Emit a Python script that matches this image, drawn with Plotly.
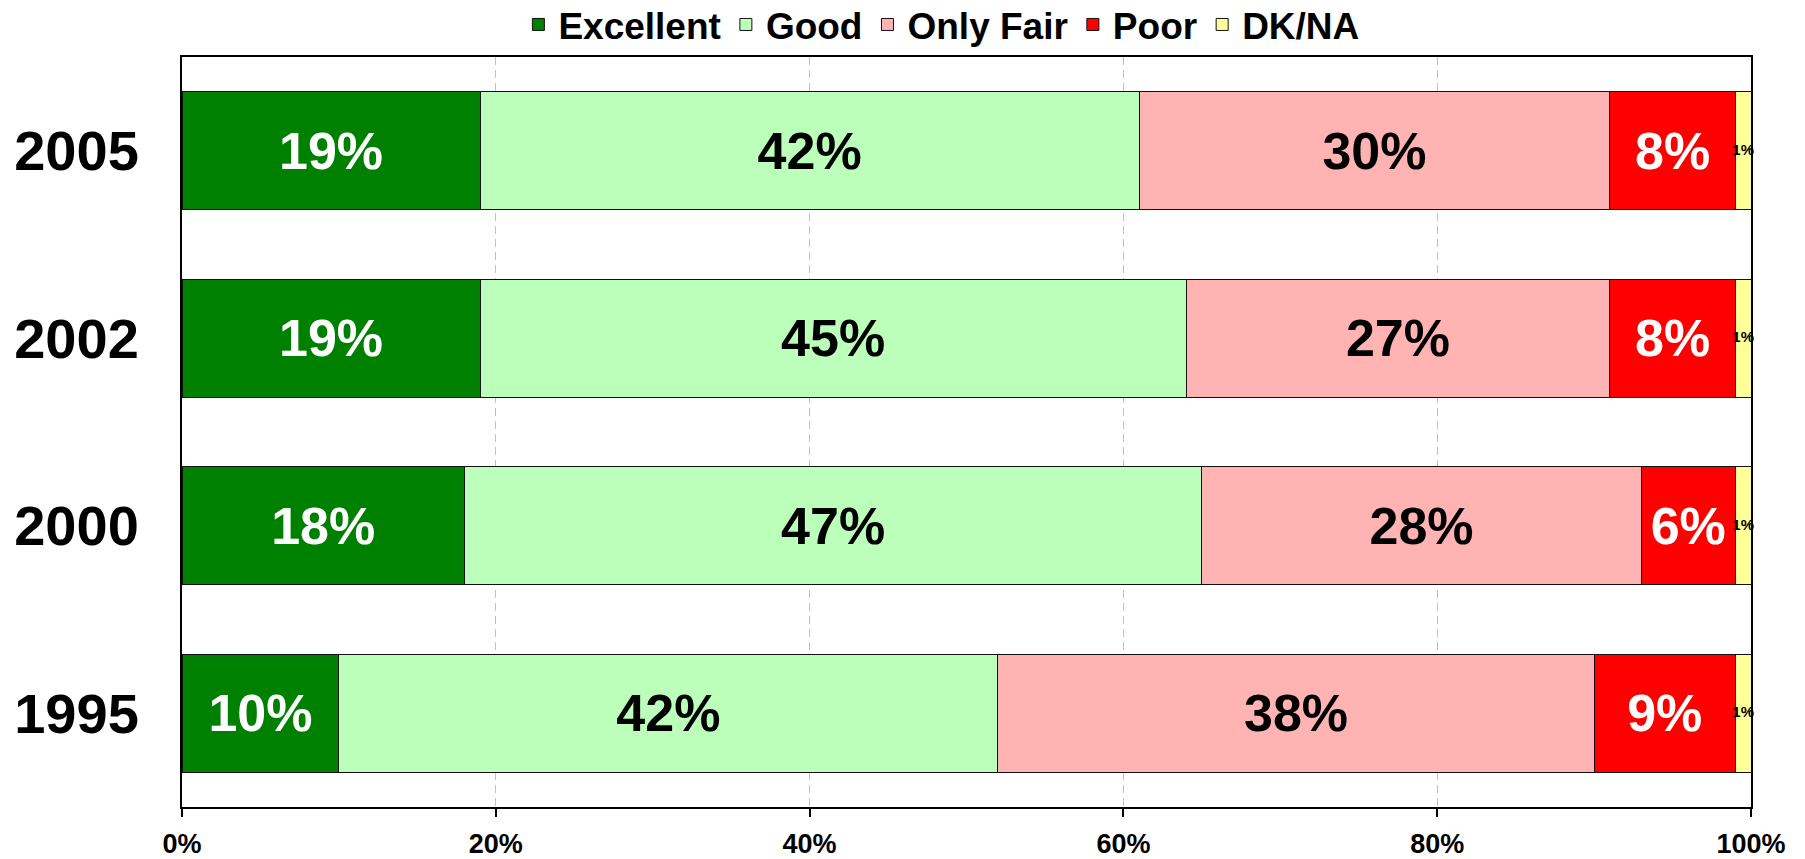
import plotly.graph_objects as go

years = ["2005", "2002", "2000", "1995"]
series_names = ["Excellent", "Good", "Only Fair", "Poor", "DK/NA"]
excellent = [19, 19, 18, 10]
good = [42, 45, 47, 42]
only_fair = [30, 27, 28, 38]
poor = [8, 8, 6, 9]
dkna = [1, 1, 1, 1]
tick_vals = [0, 20, 40, 60, 80, 100]
tick_text = ["0%", "20%", "40%", "60%", "80%", "100%"]

values = [excellent, good, only_fair, poor, dkna]
colors = ["#008000", "#BBFFBB", "#FFB3B3", "#FF0000", "#FFFF99"]
text_colors = ["white", "black", "black", "white", "black"]

FONT = "Liberation Sans, Arial, sans-serif"

fig = go.Figure()
for i, (name, vals, col, tc) in enumerate(zip(series_names, values, colors, text_colors)):
    last = i == len(series_names) - 1
    fig.add_trace(go.Bar(
        name=name, y=years, x=vals, orientation="h",
        marker=dict(color=col, line=dict(color="#111111", width=1)),
        text=None if last else [f"{v}%" for v in vals],
        textposition="inside", insidetextanchor="middle", textangle=0,
        textfont=dict(family=FONT, size=52, color=tc, weight="bold"),
        hoverinfo="skip",
    ))

# small DK/NA labels, centred on their thin segments
totals_before = [a + b + c + d for a, b, c, d in zip(excellent, good, only_fair, poor)]
fig.add_trace(go.Scatter(
    x=[t + v / 2 for t, v in zip(totals_before, dkna)], y=years,
    mode="text", text=[f"{v}%" for v in dkna], textposition="middle center",
    textfont=dict(family=FONT, size=15, color="black", weight="bold"),
    showlegend=False, hoverinfo="skip", cliponaxis=False,
))

fig.update_layout(
    barmode="stack", bargap=0.37,
    width=1805, height=859,
    margin=dict(l=182, r=54, t=57, b=52, autoexpand=False),
    plot_bgcolor="white", paper_bgcolor="white",
    font=dict(family=FONT, color="black"),
    legend=dict(orientation="h", x=0.484, xanchor="center",
                yref="container", y=0.971, yanchor="middle",
                bgcolor="rgba(0,0,0,0)",
                font=dict(family=FONT, size=37, color="black", weight="bold"),
                traceorder="normal", itemwidth=30, tracegroupgap=0),
    xaxis=dict(range=[0, 100], tickvals=tick_vals, ticktext=tick_text,
               showgrid=True, gridcolor="#C0C0C0", griddash="8px,5px", gridwidth=1,
               showline=True, mirror=True, linecolor="black", linewidth=2,
               ticks="outside", ticklen=8, tickwidth=2, tickcolor="black",
               ticklabelstandoff=4,
               tickfont=dict(family=FONT, size=27, color="black", weight="bold"),
               zeroline=False, fixedrange=True, automargin=False),
    yaxis=dict(categoryorder="array", categoryarray=["1995", "2000", "2002", "2005"],
               range=[-0.5, 3.5],
               showline=True, mirror=True, linecolor="black", linewidth=2, ticks="",
               ticklabelstandoff=30, automargin=False,
               tickfont=dict(family=FONT, size=56, color="black", weight="bold"),
               showgrid=False, fixedrange=True),
)

fig.write_html("out.html", config={"displayModeBar": False},
               post_script="document.body.style.margin='0';")
